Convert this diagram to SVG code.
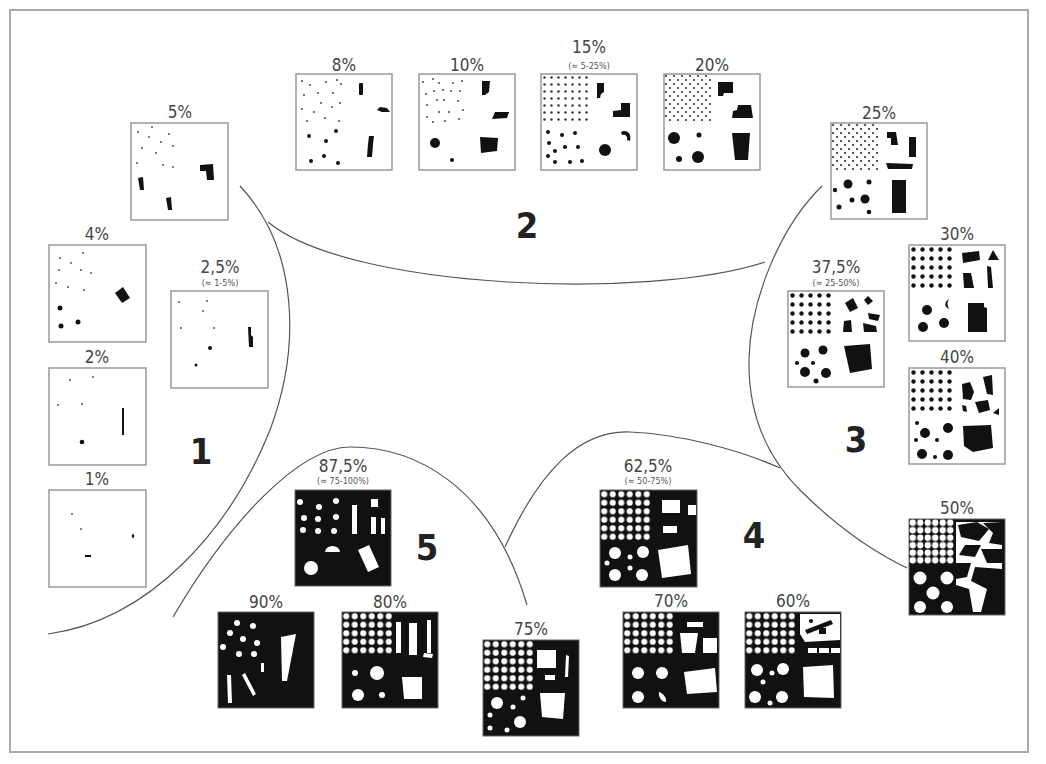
<svg xmlns="http://www.w3.org/2000/svg" width="1046" height="764" viewBox="0 0 1046 764">
<style>
.box{fill:#fff;stroke:#999;stroke-width:1.5}
.bk{fill:#111;stroke:#666;stroke-width:1}
.d{fill:#555}
.k{fill:#111}
.w{fill:#fff}
.lb{font-family:"DejaVu Sans Condensed","DejaVu Sans",sans-serif;font-stretch:condensed;font-size:17px;fill:#444;text-anchor:middle}
.sub{font-family:"DejaVu Sans Condensed","DejaVu Sans",sans-serif;font-stretch:condensed;font-size:9px;fill:#555;text-anchor:middle}
.num{font-family:"DejaVu Sans Condensed","DejaVu Sans",sans-serif;font-stretch:condensed;font-size:36px;font-weight:bold;fill:#222;text-anchor:middle}
.curve{fill:none;stroke:#555;stroke-width:1.2}
</style>
<defs>
<pattern id="pA" width="7" height="7" patternUnits="userSpaceOnUse"><circle cx="3.5" cy="3.5" r="1.2" fill="#333"/></pattern>
<pattern id="pB" width="8" height="8" patternUnits="userSpaceOnUse"><circle cx="2" cy="2" r="1.1" fill="#333"/><circle cx="6" cy="6" r="1.1" fill="#333"/></pattern>
<pattern id="pM" width="9" height="9" patternUnits="userSpaceOnUse"><circle cx="4.5" cy="4.5" r="2.2" fill="#111"/></pattern>
<pattern id="pW" width="8.5" height="8.5" patternUnits="userSpaceOnUse"><circle cx="4.25" cy="4.25" r="3" fill="#fff"/></pattern>
<pattern id="pW2" width="7.5" height="7.5" patternUnits="userSpaceOnUse"><circle cx="3.75" cy="3.75" r="3.2" fill="#fff"/></pattern>
</defs>
<rect x="0" y="0" width="1046" height="764" fill="#fff"/>
<rect x="10" y="10" width="1018" height="742" fill="none" stroke="#aaa" stroke-width="2"/>

<g id="connectors">
<path class="curve" d="M240,186 C300,250 300,350 270,430 C230,530 150,620 48,634"/>
<path class="curve" d="M268,222 C350,290 650,300 765,262"/>
<path class="curve" d="M822,186 C780,227 750,300 749,360 C748,420 770,460 800,490 C840,530 880,555 907,568"/>
<path class="curve" d="M173,617 C230,520 300,447 350,447 C410,447 490,480 527,605"/>
<path class="curve" d="M505,547 C540,470 580,430 630,432 C680,434 740,450 780,468"/>
</g>

<g id="region-numbers">
<text class="num" x="201" y="464">1</text>
<text class="num" x="527" y="238">2</text>
<text class="num" x="856" y="452">3</text>
<text class="num" x="754" y="548">4</text>
<text class="num" x="427" y="560">5</text>
</g>

<g id="n5">
<text class="lb" x="180" y="118">5%</text>
<g transform="translate(131,123)">
<rect class="box" width="97" height="97"/>
<g class="d"><circle cx="7" cy="9" r="1"/><circle cx="21" cy="4" r="1"/><circle cx="18" cy="14" r="1"/><circle cx="38" cy="11" r="1"/><circle cx="30" cy="19" r="1"/><circle cx="42" cy="23" r="1"/><circle cx="11" cy="25" r="1"/><circle cx="25" cy="30" r="1"/><circle cx="6" cy="40" r="1"/><circle cx="32" cy="42" r="1"/><circle cx="42" cy="44" r="1"/></g>
<g class="k"><polygon points="69,42 82,41 83,57 76,57 75,48 69,48"/><polygon points="7,55 12,54 13,67 9,67"/><polygon points="35,75 40,74 41,87 37,87"/></g>
</g>
</g>

<g id="n4">
<text class="lb" x="97" y="240">4%</text>
<g transform="translate(49,245)">
<rect class="box" width="97" height="97"/>
<g class="d"><circle cx="11" cy="13" r="1"/><circle cx="34" cy="8" r="1"/><circle cx="22" cy="18" r="1"/><circle cx="10" cy="25" r="1"/><circle cx="32" cy="25" r="1"/><circle cx="42" cy="28" r="1"/><circle cx="7" cy="38" r="1"/><circle cx="19" cy="42" r="1"/><circle cx="35" cy="45" r="1"/></g>
<g class="k"><circle cx="11" cy="63" r="2.5"/><circle cx="12" cy="81" r="2.5"/><circle cx="29" cy="77" r="2.5"/><polygon points="66,48 74,42 81,53 73,58"/></g>
</g>
</g>

<g id="n2_5">
<text class="lb" x="220" y="273">2,5%</text>
<text class="sub" x="220" y="286">(≈ 1-5%)</text>
<g transform="translate(171,291)">
<rect class="box" width="97" height="97"/>
<g class="d"><circle cx="8" cy="11" r="1"/><circle cx="36" cy="10" r="1"/><circle cx="32" cy="20" r="1"/><circle cx="10" cy="37" r="1"/><circle cx="43" cy="37" r="1"/></g>
<g class="k"><circle cx="39" cy="57" r="2"/><circle cx="25" cy="74" r="1.5"/><polygon points="77,36 80,36 80,44 82,46 82,56 78,56"/></g>
</g>
</g>

<g id="n2">
<text class="lb" x="97" y="363">2%</text>
<g transform="translate(49,368)">
<rect class="box" width="97" height="97"/>
<g class="d"><circle cx="21" cy="12" r="1"/><circle cx="44" cy="9" r="1"/><circle cx="9" cy="37" r="1"/><circle cx="33" cy="36" r="1"/></g>
<g class="k"><circle cx="33" cy="74" r="2.3"/><rect x="73" y="40" width="2" height="27"/></g>
</g>
</g>

<g id="n1">
<text class="lb" x="97" y="485">1%</text>
<g transform="translate(49,490)">
<rect class="box" width="97" height="97"/>
<g class="d"><circle cx="23" cy="24" r="1"/><circle cx="32" cy="39" r="1"/></g>
<g class="k"><ellipse cx="84" cy="46" rx="1.2" ry="2"/><rect x="36" y="65" width="6" height="2"/></g>
</g>
</g>

<g id="n8">
<text class="lb" x="344" y="71">8%</text>
<g transform="translate(296,74)">
<rect class="box" width="96" height="96"/>
<g class="d"><circle cx="6" cy="7" r="1.1"/><circle cx="14" cy="11" r="1.1"/><circle cx="30" cy="8" r="1.1"/><circle cx="41" cy="6" r="1.1"/><circle cx="45" cy="10" r="1.1"/><circle cx="8" cy="21" r="1.1"/><circle cx="22" cy="19" r="1.1"/><circle cx="37" cy="19" r="1.1"/><circle cx="25" cy="29" r="1.1"/><circle cx="6" cy="35" r="1.1"/><circle cx="18" cy="38" r="1.1"/><circle cx="36" cy="33" r="1.1"/><circle cx="44" cy="29" r="1.1"/><circle cx="11" cy="47" r="1.1"/><circle cx="29" cy="44" r="1.1"/><circle cx="43" cy="47" r="1.1"/></g>
<g class="k"><circle cx="40" cy="57" r="2"/><circle cx="13" cy="62" r="2"/><circle cx="30" cy="67" r="2"/><circle cx="28" cy="82" r="2"/><circle cx="15" cy="87" r="2"/><circle cx="42" cy="89" r="2"/>
<rect x="63" y="9" width="4" height="12" rx="1"/><polygon points="84,33 91,34 94,38 86,38 81,36"/><polygon points="73,62 78,62 77,70 76,83 71,83 72,70"/></g>
</g>
</g>

<g id="n10">
<text class="lb" x="467" y="71">10%</text>
<g transform="translate(419,74)">
<rect class="box" width="96" height="96"/>
<g class="d"><circle cx="4" cy="8" r="1.1"/><circle cx="14" cy="5" r="1.1"/><circle cx="20" cy="9" r="1.1"/><circle cx="34" cy="9" r="1.1"/><circle cx="43" cy="7" r="1.1"/><circle cx="7" cy="20" r="1.1"/><circle cx="15" cy="17" r="1.1"/><circle cx="24" cy="16" r="1.1"/><circle cx="32" cy="17" r="1.1"/><circle cx="41" cy="17" r="1.1"/><circle cx="18" cy="26" r="1.1"/><circle cx="25" cy="26" r="1.1"/><circle cx="39" cy="27" r="1.1"/><circle cx="8" cy="31" r="1.1"/><circle cx="20" cy="38" r="1.1"/><circle cx="30" cy="38" r="1.1"/><circle cx="44" cy="36" r="1.1"/><circle cx="8" cy="43" r="1.1"/><circle cx="14" cy="48" r="1.1"/><circle cx="26" cy="47" r="1.1"/><circle cx="40" cy="45" r="1.1"/></g>
<g class="k"><circle cx="16" cy="69" r="5"/><circle cx="33" cy="86" r="2"/>
<polygon points="63,7 71,7 70,18 66,21 63,21"/><polygon points="76,38 90,38 88,44 73,45"/><polygon points="61,63 79,64 78,77 62,79"/></g>
</g>
</g>

<g id="n15">
<text class="lb" x="589" y="53">15%</text>
<text class="sub" x="589" y="69">(≈ 5-25%)</text>
<g transform="translate(541,74)">
<rect class="box" width="96" height="96"/>
<rect x="0" y="0" width="49" height="49" fill="url(#pA)"/>
<g class="k"><circle cx="7" cy="58" r="2"/><circle cx="21" cy="61" r="2"/><circle cx="34" cy="59" r="2"/><circle cx="8" cy="69" r="2"/><circle cx="24" cy="73" r="2"/><circle cx="37" cy="73" r="2"/><circle cx="14" cy="77" r="2"/><circle cx="7" cy="82" r="2"/><circle cx="14" cy="88" r="2"/><circle cx="29" cy="88" r="2"/><circle cx="41" cy="87" r="2"/><circle cx="64" cy="76" r="6"/>
<polygon points="56,9 63,9 63,18 60,20 59,24 56,24"/><polygon points="80,29 89,29 89,43 72,43 72,37 80,36"/><path d="M80,58 C86,55 91,60 89,67 L86,66 C87,62 84,60 81,61 Z"/></g>
</g>
</g>

<g id="n20">
<text class="lb" x="712" y="71">20%</text>
<g transform="translate(664,74)">
<rect class="box" width="96" height="96"/>
<rect x="0" y="0" width="48" height="48" fill="url(#pB)"/>
<g class="k"><circle cx="10" cy="64" r="6"/><circle cx="35" cy="61" r="2.5"/><circle cx="15" cy="85" r="3"/><circle cx="34" cy="83" r="6"/>
<polygon points="54,8 69,8 69,19 60,19 59,22 54,22"/><polygon points="74,31 87,31 89,44 68,44 69,37 73,36"/><polygon points="68,59 86,59 84,86 71,86"/></g>
</g>
</g>

<g id="n25">
<text class="lb" x="879" y="119">25%</text>
<g transform="translate(831,123)">
<rect class="box" width="96" height="96"/>
<rect x="0" y="0" width="48" height="48" fill="url(#pB)"/>
<g class="k"><circle cx="17" cy="61" r="4.5"/><circle cx="38" cy="59" r="2.5"/><circle cx="4" cy="67" r="2.2"/><circle cx="21" cy="77" r="2.5"/><circle cx="34" cy="76" r="4.5"/><circle cx="8" cy="84" r="2.5"/><circle cx="38" cy="89" r="2.3"/>
<polygon points="56,9 65,9 67,22 60,22 60,15 56,15"/><rect x="78" y="14" width="7" height="20"/><polygon points="55,40 82,41 81,46 57,46"/><rect x="61" y="57" width="14" height="33"/></g>
</g>
</g>

<g id="n30">
<text class="lb" x="957" y="240">30%</text>
<g transform="translate(909,245)">
<rect class="box" width="96" height="96"/>
<rect x="0" y="0" width="45" height="45" fill="url(#pM)"/>
<g class="k"><circle cx="18" cy="65" r="5"/><circle cx="14" cy="82" r="5"/><circle cx="35" cy="78" r="5"/><path d="M40,54 C35,57 35,62 40,64 C38,60 38,57 40,54Z"/>
<polygon points="53,8 70,6 71,15 54,18"/><polygon points="84,5 90,15 79,15"/><polygon points="54,28 62,28 65,43 55,43"/><polygon points="78,21 82,22 84,43 79,43"/><polygon points="59,58 75,58 75,62 78,63 78,87 59,87"/></g>
</g>
</g>

<g id="n37_5">
<text class="lb" x="836" y="273">37,5%</text>
<text class="sub" x="836" y="286">(≈ 25-50%)</text>
<g transform="translate(788,291)">
<rect class="box" width="96" height="96"/>
<rect x="0" y="0" width="45" height="45" fill="url(#pM)"/>
<g class="k"><circle cx="17" cy="62" r="4.5"/><circle cx="35" cy="59" r="4.5"/><circle cx="9" cy="72" r="2"/><circle cx="25" cy="72" r="2"/><circle cx="17" cy="81" r="5"/><circle cx="38" cy="82" r="5"/><circle cx="28" cy="90" r="2.5"/>
<polygon points="56,55 82,53 84,78 62,82"/>
<polygon points="57,12 65,7 70,17 62,21"/><polygon points="80,5 85,10 80,14 76,9"/><polygon points="80,22 92,24 90,30 81,28"/><polygon points="56,30 63,29 64,41 55,41"/><polygon points="75,32 88,35 89,41 76,41"/></g>
</g>
</g>

<g id="n40">
<text class="lb" x="957" y="363">40%</text>
<g transform="translate(909,368)">
<rect class="box" width="96" height="96"/>
<rect x="0" y="0" width="45" height="45" fill="url(#pM)"/>
<g class="k"><circle cx="16" cy="65" r="5"/><circle cx="39" cy="60" r="5"/><circle cx="13" cy="86" r="5"/><circle cx="39" cy="87" r="5"/><circle cx="7" cy="72" r="2"/><circle cx="28" cy="72" r="2"/><circle cx="26" cy="89" r="2"/><circle cx="8" cy="55" r="2"/>
<polygon points="53,16 61,14 65,24 62,32 54,31"/><polygon points="74,9 83,7 84,27 78,26"/><polygon points="66,34 79,32 81,42 70,45"/><polygon points="90,40 90,47 84,45"/><polygon points="53,37 57,38 58,44 54,43"/><polygon points="54,58 82,57 84,80 64,84 55,78"/></g>
</g>
</g>

<g id="n50">
<text class="lb" x="957" y="514">50%</text>
<g transform="translate(909,519)">
<rect class="bk" width="96" height="96"/>
<rect x="0" y="0" width="45" height="45" fill="url(#pW2)"/>
<g class="w"><circle cx="11" cy="59" r="6.5"/><circle cx="38" cy="59" r="6.5"/><circle cx="24" cy="74" r="6.5"/><circle cx="11" cy="88" r="6"/><circle cx="38" cy="88" r="6"/>
<rect x="47" y="3" width="46" height="90"/></g>
<g class="k"><polygon points="49,6 68,3 80,10 70,22 52,18"/><polygon points="74,4 93,3 93,26 80,24 84,14"/><polygon points="56,26 72,26 66,38 50,36"/><polygon points="72,30 93,30 93,44 78,44"/><polygon points="47,44 62,44 58,58 47,60"/><polygon points="66,48 93,50 93,93 72,93 78,70 62,62"/><polygon points="47,66 60,70 64,93 47,93"/></g>
</g>
</g>

<g id="n62_5">
<text class="lb" x="648" y="472">62,5%</text>
<text class="sub" x="648" y="484">(≈ 50-75%)</text>
<g transform="translate(600,490)">
<rect class="bk" width="97" height="97"/>
<rect x="0" y="0" width="51" height="51" fill="url(#pW)"/>
<g class="w"><circle cx="15" cy="63" r="6"/><circle cx="43" cy="62" r="6"/><circle cx="15" cy="85" r="6"/><circle cx="42" cy="85" r="6"/><circle cx="7" cy="73" r="2.5"/><circle cx="30" cy="67" r="2.5"/><circle cx="30" cy="78" r="2.5"/>
<rect x="62" y="10" width="18" height="13"/><rect x="88" y="15" width="8" height="10"/><rect x="63" y="36" width="14" height="7"/><polygon points="58,60 88,55 91,84 62,88"/></g>
</g>
</g>

<g id="n75">
<text class="lb" x="531" y="635">75%</text>
<g transform="translate(483,640)">
<rect class="bk" width="96" height="96"/>
<rect x="0" y="0" width="51" height="51" fill="url(#pW)"/>
<g class="w"><circle cx="14" cy="63" r="6"/><circle cx="37" cy="82" r="6"/><circle cx="7" cy="75" r="2.5"/><circle cx="30" cy="67" r="2.5"/><circle cx="40" cy="58" r="2.5"/><circle cx="7" cy="88" r="2.5"/><circle cx="24" cy="90" r="2.5"/>
<rect x="54" y="10" width="19" height="18"/><polygon points="83,15 86,16 85,37 82,37"/><rect x="62" y="35" width="10" height="5"/><polygon points="57,53 82,53 80,79 59,77"/></g>
</g>
</g>

<g id="n70">
<text class="lb" x="671" y="607">70%</text>
<g transform="translate(623,612)">
<rect class="bk" width="96" height="96"/>
<rect x="0" y="0" width="51" height="42.5" fill="url(#pW)"/>
<g class="w"><circle cx="15" cy="61" r="6"/><circle cx="39" cy="61" r="6"/><circle cx="15" cy="85" r="6"/><path d="M36,80 C40,81 44,86 43,90 C39,90 35,85 36,80Z"/>
<rect x="64" y="10" width="16" height="5"/><polygon points="57,21 75,21 72,41 59,41"/><rect x="80" y="26" width="14" height="15"/><polygon points="61,60 92,56 94,80 64,82"/></g>
</g>
</g>

<g id="n60">
<text class="lb" x="793" y="607">60%</text>
<g transform="translate(745,612)">
<rect class="bk" width="96" height="96"/>
<rect x="0" y="0" width="51" height="42.5" fill="url(#pW)"/>
<g class="w"><circle cx="12" cy="58" r="6"/><circle cx="38" cy="57" r="6"/><circle cx="10" cy="85" r="6"/><circle cx="37" cy="85" r="6"/><circle cx="18" cy="70" r="2.5"/><circle cx="27" cy="61" r="2.5"/><circle cx="25" cy="91" r="2.5"/>
<polygon points="55,2 95,2 95,28 60,30 55,22"/><rect x="63" y="36" width="32" height="5"/><polygon points="58,55 88,53 89,86 59,85"/></g>
<g class="k"><polygon points="60,18 86,8 88,12 62,22"/><rect x="74" y="16" width="7" height="6"/><circle cx="66" cy="9" r="2"/><rect x="72" y="36" width="2" height="5"/><rect x="84" y="36" width="2" height="5"/></g>
</g>
</g>

<g id="n87_5">
<text class="lb" x="343" y="472">87,5%</text>
<text class="sub" x="343" y="484">(≈ 75-100%)</text>
<g transform="translate(295,490)">
<rect class="bk" width="96" height="96"/>
<g class="w"><circle cx="5" cy="12" r="3"/><circle cx="24" cy="17" r="3"/><circle cx="41" cy="11" r="3"/><circle cx="9" cy="28" r="3"/><circle cx="23" cy="29" r="3"/><circle cx="41" cy="27" r="3"/><circle cx="8" cy="40" r="3"/><circle cx="23" cy="41" r="3"/><circle cx="39" cy="41" r="3"/><rect x="76" y="9" width="7" height="8"/>
<rect x="57" y="15" width="5" height="29"/><rect x="76" y="27" width="5" height="17"/><rect x="86" y="28" width="4" height="16"/>
<path d="M30,62 A7.5,6 0 0 1 45,62 Z"/><polygon points="63,60 74,55 84,77 73,82"/><circle cx="16" cy="78" r="7"/></g>
</g>
</g>

<g id="n90">
<text class="lb" x="266" y="608">90%</text>
<g transform="translate(218,612)">
<rect class="bk" width="96" height="96"/>
<g class="w"><circle cx="19" cy="11" r="3"/><circle cx="35" cy="14" r="3"/><circle cx="12" cy="21" r="3"/><circle cx="25" cy="27" r="3"/><circle cx="39" cy="31" r="3"/><circle cx="5" cy="35" r="3"/><circle cx="21" cy="42" r="3"/><circle cx="36" cy="42" r="3"/>
<polygon points="63,25 78,22 69,69 64,69"/><polygon points="24,63 27,61 38,82 35,84"/><polygon points="9,63 13,63 14,91 10,91"/><rect x="43" y="51" width="3" height="9"/></g>
</g>
</g>

<g id="n80">
<text class="lb" x="390" y="608">80%</text>
<g transform="translate(342,612)">
<rect class="bk" width="96" height="96"/>
<rect x="0" y="0" width="51" height="42.5" fill="url(#pW)"/>
<g class="w"><circle cx="35" cy="61" r="7"/><circle cx="13" cy="61" r="3"/><circle cx="16" cy="83" r="6"/><circle cx="40" cy="83" r="3"/>
<rect x="54" y="10" width="5" height="31"/><rect x="67" y="11" width="8" height="32"/><rect x="85" y="8" width="4" height="33"/><polygon points="82,41 91,42 90,46 81,45"/><polygon points="60,65 80,65 80,87 62,87"/></g>
</g>
</g>
</svg>
